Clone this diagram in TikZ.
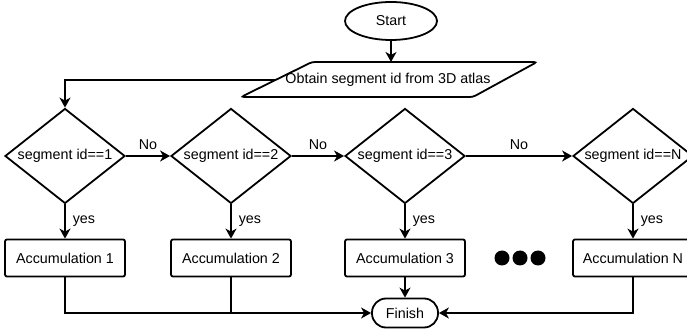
\documentclass[tikz,border=0pt]{standalone}
\usepackage{fontspec}
\setmainfont{Liberation Sans}
\usetikzlibrary{shapes.geometric,arrows.meta}
\begin{document}
\begin{tikzpicture}[x=1pt,y=-1pt,
  font=\fontsize{14.3}{17}\selectfont,
  >={Stealth[length=10pt,width=11pt,inset=3pt]},
  shape line/.style={draw, line width=1.8pt},
  term/.style={ellipse, shape line, minimum width=92pt, minimum height=38pt, inner sep=0pt},
  dia/.style={diamond, shape line, minimum width=120pt, minimum height=95pt, inner sep=0pt},
  acc/.style={rectangle, shape line, rounded corners=2pt, minimum width=120pt, minimum height=37pt, inner sep=0pt},
  fin/.style={rectangle, shape line, rounded corners=14pt, minimum width=66pt, minimum height=29pt, inner sep=0pt},
  bigdot/.style={circle, fill, minimum size=15pt, inner sep=0pt},
  lbl/.style={inner sep=0pt},
  conn/.style={line width=1.5pt}]
\useasboundingbox (0,0) rectangle (687,336);

% start
\node[term] (start) at (391,21) {Start};

% parallelogram
\coordinate (pbl) at (241,97);
\coordinate (ptl) at (312,62);
\coordinate (ptr) at (537,62);
\coordinate (pbr) at (473,97);
\draw[line width=1.8pt, rounded corners=3pt] (pbl) -- (ptl) -- (ptr) -- (pbr) -- cycle;
\node[lbl] (obt) at (388,80) {Obtain segment id from 3D atlas};
\coordinate (ptop) at (391,62);
\coordinate (pleft) at (275,80);

% diamonds
\node[dia] (d1) at (65,156) {};
\node[dia] (d2) at (231,156) {};
\node[dia] (d3) at (405,156) {};
\node[dia] (dN) at (633,156) {};
\node[lbl] (t1) at (d1) {segment id==1};
\node[lbl] (t2) at (d2) {segment id==2};
\node[lbl] (t3) at (d3) {segment id==3};
\node[lbl] (tN) at (dN) {segment id==N};

% accumulation boxes
\node[acc] (a1) at (65,258) {Accumulation 1};
\node[acc] (a2) at (231,258) {Accumulation 2};
\node[acc] (a3) at (405,258) {Accumulation 3};
\node[acc] (aN) at (633,258) {Accumulation N};

% dots
\node[bigdot] (dot1) at (502,258) {};
\node[bigdot] (dot2) at (520,258) {};
\node[bigdot] (dot3) at (538,258) {};

% finish
\node[fin] (fin) at (405,313) {Finish};

% connectors
\draw[conn,->] (start.south) -- (ptop);
\draw[conn,->] (pleft) -| (d1.north);

\draw[conn,->] (d1.east) -- node[lbl, above=6pt] (no1) {No} (d2.west);
\draw[conn,->] (d2.east) -- node[lbl, above=6pt] (no2) {No} (d3.west);
\draw[conn,->] (d3.east) -- node[lbl, above=6pt] (no3) {No} (dN.west);

\draw[conn,->] (d1.south) -- node[lbl, right=7pt] (y1) {yes} (a1.north);
\draw[conn,->] (d2.south) -- node[lbl, right=7pt] (y2) {yes} (a2.north);
\draw[conn,->] (d3.south) -- node[lbl, right=7pt] (y3) {yes} (a3.north);
\draw[conn,->] (dN.south) -- node[lbl, right=7pt] (yN) {yes} (aN.north);

\draw[conn,->] (a1.south) |- (fin.west);
\draw[conn] (a2.south) -- (a2.south |- fin.west);
\draw[conn,->] (a3.south) -- (fin.north);
\draw[conn,->] (aN.south) |- (fin.east);
\end{tikzpicture}
\end{document}
